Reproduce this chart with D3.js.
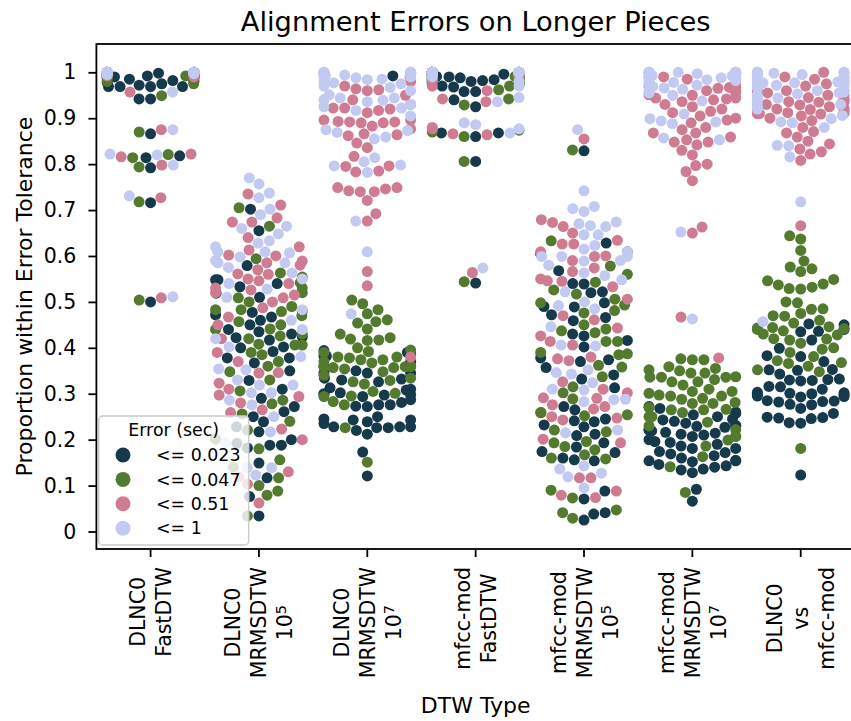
<!DOCTYPE html>
<html>
<head>
<meta charset="utf-8">
<script src="https://cdn.jsdelivr.net/npm/d3@7"></script>
<style>
body { margin: 0; background: #fff; }
svg text { font-family: "DejaVu Sans", sans-serif; fill: #000; }
</style>
</head>
<body>
<svg id="chart" width="851" height="721"></svg>
<script>
// Kategorie (typ DTW) i etykiety osi X (linie, "^" = indeks górny)
var categories = ["DLNC0 FastDTW", "DLNC0 MRMSDTW 10^5", "DLNC0 MRMSDTW 10^7", "mfcc-mod FastDTW",
	"mfcc-mod MRMSDTW 10^5", "mfcc-mod MRMSDTW 10^7", "DLNC0 vs mfcc-mod"];
var tickLines = [["DLNC0", "FastDTW"], ["DLNC0", "MRMSDTW", "10^5"], ["DLNC0", "MRMSDTW", "10^7"],
	["mfcc-mod", "FastDTW"], ["mfcc-mod", "MRMSDTW", "10^5"], ["mfcc-mod", "MRMSDTW", "10^7"],
	["DLNC0", "vs", "mfcc-mod"]];
var yTicks = [0, 0.1, 0.2, 0.3, 0.4, 0.5, 0.6, 0.7, 0.8, 0.9, 1];
var hueLabels = ["<= 0.023", "<= 0.047", "<= 0.51", "<= 1"];
var hueColors = ["#16394b", "#537a2e", "#cf7c93", "#c2caf1"];

// Wartości: jedna tablica na tolerancję, w środku jedna lista na kategorię
var tol023 = [
	[.866,.814,.818,.792,.716,.500,.942,.942,.969,.969,.969,.969,.98,.99,.99,.99,.972,.975,.978,.982,.985,.988,.992,.994,.995,.996,.997,.998,.999,1,1,1,1,1,1,1,1,1,1,1,1,1,1,1,1,1],
	[.702,.655,.579,.548,.548,.533,.519,.48,.472,.467,.477,.46,.424,.430,.422,.417,.435,.402,.40,.392,.378,.378,.367,.329,.272,.228,.217,.188,.188,.192,.182,.261,.239,.149,.117,.076,.034,.54,.51,.45,.44,.35,.31,.29,.25,.20],
	[.382,.394,.382,.386,.334,.345,.326,.332,.345,.345,.302,.297,.299,.298,.313,.308,.276,.273,.272,.276,.281,.287,.294,.243,.228,.226,.245,.22,.239,.212,.226,.228,.243,.228,.173,.121,.992,.39,.37,.36,.35,.33,.31,.30,.25,.235],
	[.806,.860,.868,.868,.541,.991,.98,.995,.973,.968,.958,.958,.94,.925,.97,.975,.978,.98,.982,.984,.985,.986,.987,.988,.989,.99,.99,.992,.993,.994,.995,.996,.997,.998,.999,1,1,1,1,1,1,1,1,1,1,1],
	[.568,.539,.52,.522,.54,.498,.49,.472,.489,.466,.459,.43,.426,.416,.402,.374,.37,.378,.357,.341,.332,.313,.265,.232,.239,.245,.228,.241,.272,.212,.209,.193,.172,.174,.184,.16,.156,.154,.088,.071,.041,.038,.025,.628,.605,.829],
	[.268,.272,.254,.257,.245,.243,.236,.227,.231,.229,.221,.212,.216,.21,.219,.222,.214,.207,.186,.196,.181,.194,.172,.181,.169,.174,.154,.143,.154,.152,.16,.134,.128,.136,.14,.146,.155,.092,.066,.26,.25,.24,.23,.20,.19,.165],
	[.45,.435,.436,.417,.399,.381,.383,.37,.352,.353,.351,.343,.33,.331,.329,.332,.328,.315,.316,.301,.303,.299,.300,.302,.298,.294,.295,.293,.283,.284,.282,.285,.276,.277,.268,.257,.247,.248,.246,.249,.236,.237,.123,.452,.44,.31]
];
var tol047 = [
	[.870,.814,.821,.794,.718,.504,.949,.975,.986,.99,.98,.983,.987,.99,.992,.993,.994,.995,.996,.997,.998,.999,1,1,1,1,1,1,1,1,1,1,1,1,1,1,1,1,1,1,1,1,1,1,1,1],
	[.594,.563,.554,.542,.52,.509,.483,.483,.479,.457,.441,.426,.45,.50,.42,.406,.406,.408,.385,.348,.306,.278,.256,.201,.286,.221,.156,.117,.088,.079,.034,.665,.705,.53,.49,.47,.44,.43,.39,.37,.36,.33,.24,.18,.14,.10],
	[.496,.504,.483,.474,.461,.457,.454,.441,.43,.422,.417,.416,.419,.38,.378,.38,.367,.357,.348,.354,.357,.359,.329,.326,.321,.334,.295,.305,.283,.276,.226,.151,.395,.374,.359,.392,.374,.359,.301,.294,.998,.40,.39,.37,.36,.34],
	[.806,.860,.87,.874,.544,.988,.984,.993,.962,.97,.973,.942,.929,.975,.978,.98,.982,.985,.987,.989,.99,.991,.992,.993,.994,.995,.996,.997,.998,.999,1,1,1,1,1,1,1,1,1,1,1,1,1,1,1,1],
	[.578,.56,.526,.517,.543,.506,.493,.498,.481,.476,.441,.437,.433,.414,.414,.387,.358,.385,.39,.337,.362,.302,.315,.289,.259,.259,.252,.254,.221,.217,.196,.193,.185,.178,.16,.167,.158,.09,.073,.041,.047,.029,.633,.609,.831,.45],
	[.376,.374,.374,.359,.35,.345,.352,.355,.337,.336,.336,.326,.319,.326,.331,.336,.345,.305,.301,.295,.288,.295,.297,.305,.279,.265,.25,.281,.259,.265,.266,.279,.25,.238,.222,.207,.199,.207,.186,.163,.141,.085,.31,.29,.27,.23],
	[.644,.637,.612,.589,.572,.566,.576,.546,.537,.528,.549,.529,.532,.539,.498,.484,.485,.469,.470,.475,.454,.44,.446,.437,.443,.444,.442,.428,.417,.41,.419,.42,.39,.397,.368,.372,.366,.381,.352,.348,.181,.50,.46,.43,.40,.36]
];
var tol051 = [
	[.875,.816,.822,.798,.727,.509,.957,.99,.992,.994,.995,.996,.997,.998,.999,1,1,1,1,1,1,1,1,1,1,1,1,1,1,1,1,1,1,1,1,1,1,1,1,1,1,1,1,1,1,1],
	[.735,.711,.683,.674,.674,.613,.60,.589,.602,.585,.58,.561,.546,.56,.55,.52,.515,.526,.509,.467,.487,.53,.346,.345,.323,.297,.294,.28,.259,.223,.265,.13,.119,.062,.103,.64,.62,.57,.54,.50,.45,.42,.39,.37,.31,.20],
	[1,.964,.96,.962,.95,.922,.917,.912,.922,.92,.896,.893,.89,.883,.89,.877,.892,.892,.896,.862,.866,.864,.846,.836,.817,.795,.783,.785,.796,.749,.746,.74,.74,.742,.749,.721,.676,.692,.566,.535,.38,.99,.98,.97,.94,.93],
	[.864,.866,.877,.88,.564,.936,.942,.96,.97,.98,.985,.99,.992,.994,.995,.996,.997,.998,.999,1,1,1,1,1,1,1,1,1,1,1,1,1,1,1,1,1,1,1,1,1,1,1,1,1,1,1],
	[.574,.566,.55,.546,.545,.533,.506,.461,.443,.47,.414,.426,.406,.38,.372,.376,.326,.302,.31,.291,.272,.276,.29,.267,.247,.25,.243,.193,.201,.117,.117,.079,.074,.088,.673,.664,.679,.65,.626,.626,.634,.609,.599,.59,.855,.60],
	[.98,.958,.96,.967,.967,.951,.944,.942,.936,.94,.944,.92,.95,.912,.89,.896,.90,.868,.859,.853,.848,.842,.848,.868,.784,.797,.80,.764,.65,.663,.467,.378,.99,.985,.975,.97,.965,.955,.93,.925,.915,.905,.88,.875,.83,.82],
	[1,.957,.936,.929,.933,.935,.919,.91,.911,.909,.912,.871,.859,.868,.844,.827,.822,.833,.808,.666,.99,.985,.98,.975,.97,.965,.96,.955,.95,.951,.945,.94,.941,.935,.93,.925,.92,.921,.915,.916,.905,.90,.895,.88,.85,.91]
];
var tol1 = [
	[.875,.820,.822,.798,.731,.511,.957,.995,.997,.998,.999,1,1,1,1,1,1,1,1,1,1,1,1,1,1,1,1,1,1,1,1,1,1,1,1,1,1,1,1,1,1,1,1,1,1,1],
	[.770,.757,.737,.727,.702,.665,.648,.633,.628,.609,.607,.598,.609,.585,.585,.575,.563,.528,.483,.402,.381,.354,.352,.319,.302,.286,.302,.319,.276,.217,.123,.139,.139,.193,.69,.66,.62,.59,.55,.54,.51,.46,.44,.42,.33,.25],
	[1,.994,.99,.984,.977,.988,.967,.98,.944,.94,.936,.951,.939,.944,.94,.922,.925,.917,.905,.875,.869,.855,.859,.873,.814,.805,.796,.782,.798,.676,.609,.474,1,1,1,1,.998,.996,.995,.993,.99,.985,.975,.97,.96,.93],
	[.868,.877,.886,.89,.574,.945,.936,.97,.98,.99,.995,.997,.998,.999,1,1,1,1,1,1,1,1,1,1,1,1,1,1,1,1,1,1,1,1,1,1,1,1,1,1,1,1,1,1,1,1],
	[.59,.557,.563,.548,.522,.492,.485,.50,.446,.406,.404,.352,.343,.346,.324,.31,.308,.288,.283,.287,.215,.221,.127,.143,.119,.136,.095,.742,.708,.697,.703,.666,.674,.664,.67,.646,.646,.623,.609,.589,.599,.599,.615,.599,.58,.875],
	[.99,.986,.999,.99,.984,.969,.966,.96,.938,.909,.899,.894,.888,.892,.853,.857,.652,.463,1,1,1,1,.998,.995,.993,.99,.985,.98,1,1,1,1,1,1,.997,.996,.994,.992,.988,.982,.978,.975,.972,.963,.955,.95],
	[1,.99,.979,.979,.979,.977,.977,.966,.957,.953,.944,.955,.935,.906,.899,.89,.892,.84,.841,.816,.718,.457,1,1,1,1,.998,.995,.993,.99,.988,.985,.982,.975,.972,.97,.968,.962,.96,.95,.945,.94,.93,.925,.92,.88]
];
var series = [tol023, tol047, tol051, tol1];

var svg = d3.select("#chart");
var R = 5.5;  // promień punktu

// Skale
var x = d3.scaleBand().domain(categories).range([96.4, 854.9]).paddingInner(0).paddingOuter(0);
var y = d3.scaleLinear().domain([0, 1]).range([531.5, 72.3]);
var plotTop = 44, plotBottom = 549;

// Układ "swarm" jak w seaborn: po kolei od najmniejszej wartości
function beeswarm(pts, cx, halfW) {
	var sorted = pts.slice().sort(function (a, b) { return a.v - b.v || a.order - b.order; });
	var placed = [];
	sorted.forEach(function (p, i) {
		p.py = y(p.v);
		if (i === 0) { p.px = cx; placed.push(p); return; }
		var nb = [];
		for (var j = placed.length - 1; j >= 0; j--) {
			if (placed[j].py - p.py < 2 * R) nb.unshift(placed[j]); else break;
		}
		var cands = [cx];
		var leftFirst = true;
		nb.forEach(function (q) {
			var dy = p.py - q.py;
			var dx = Math.sqrt(Math.max(4 * R * R - dy * dy, 0)) * 1.05;
			if (leftFirst) cands.push(q.px - dx, q.px + dx);
			else cands.push(q.px + dx, q.px - dx);
			leftFirst = !leftFirst;
		});
		var order = cands.map(function (c, k) { return [Math.abs(c - cx), k, c]; })
			.sort(function (a, b) { return a[0] - b[0] || a[1] - b[1]; });
		var chosen = cx;
		for (var k = 0; k < order.length; k++) {
			var c = order[k][2];
			var ok = nb.every(function (q) {
				var ddx = q.px - c, ddy = q.py - p.py;
				return ddx * ddx + ddy * ddy >= 4 * R * R - 1e-9;
			});
			if (ok) { chosen = c; break; }
		}
		p.px = chosen;
		placed.push(p);
	});
	// punkty poza szerokością lądują na krawędzi
	placed.forEach(function (p) {
		p.px = Math.max(cx - halfW, Math.min(cx + halfW, p.px));
	});
}

svg.append("clipPath").attr("id", "clip")
	.append("rect").attr("x", 96.4).attr("y", plotTop).attr("width", 758.5).attr("height", plotBottom - plotTop);

var pointsG = svg.append("g").attr("clip-path", "url(#clip)");

categories.forEach(function (cat, ci) {
	var pts = [];
	series.forEach(function (s, hi) {
		s[ci].forEach(function (v) { pts.push({ v: v, hue: hi, order: pts.length }); });
	});
	var cx = x(cat) + x.bandwidth() / 2;
	beeswarm(pts, cx, x.bandwidth() * 0.4);
	pointsG.selectAll(null).data(pts).enter().append("circle")
		.attr("cx", function (d) { return d.px; })
		.attr("cy", function (d) { return d.py; })
		.attr("r", R)
		.style("fill", function (d) { return hueColors[d.hue]; });
});

// Ramka wykresu
svg.append("rect").attr("x", 96.4).attr("y", plotTop).attr("width", 758.5).attr("height", plotBottom - plotTop)
	.style("fill", "none").style("stroke", "#000").style("stroke-width", 1.8);

// Oś Y
var yAxis = svg.append("g").attr("transform", "translate(96.4,0)")
	.call(d3.axisLeft(y).tickValues(yTicks).tickSize(8).tickPadding(12)
		.tickFormat(function (d) { return d === 0 ? "0" : d === 1 ? "1" : d3.format(".1f")(d); }));
yAxis.select(".domain").remove();
yAxis.selectAll(".tick line").style("stroke", "#000").style("stroke-width", 1.8);
yAxis.selectAll(".tick text").style("font-size", "20.5px").style("font-family", "DejaVu Sans").attr("fill", "#000");

// Oś X – tylko kreski, etykiety rysowane obrócone
var xAxis = svg.append("g").attr("transform", "translate(0," + plotBottom + ")")
	.call(d3.axisBottom(x).tickSize(8).tickFormat(""));
xAxis.select(".domain").remove();
xAxis.selectAll(".tick line").style("stroke", "#000").style("stroke-width", 1.8);

var pitch = 26;
categories.forEach(function (cat, ci) {
	var cx = x(cat) + x.bandwidth() / 2;
	var outer = svg.append("g");
	var rot = outer.append("g").attr("transform", "rotate(-90)");
	var lines = tickLines[ci];
	var maxLen = 0;
	lines.forEach(function (ln, k) {
		var t = rot.append("text")
			.attr("x", 0)
			.attr("y", (k - (lines.length - 1) / 2) * pitch + 7.5)
			.attr("text-anchor", "middle")
			.style("font-size", "20.5px");
		var parts = ln.split("^");
		t.append("tspan").text(parts[0]);
		if (parts.length > 1) {
			t.append("tspan").attr("dy", "-0.45em").style("font-size", "14.5px").text(parts[1]);
		}
		maxLen = Math.max(maxLen, t.node().getComputedTextLength());
	});
	outer.attr("transform", "translate(" + cx + "," + (567 + maxLen / 2) + ")");
});

// Tytuł i opisy osi
svg.append("text").attr("x", 475.6).attr("y", 31).attr("text-anchor", "middle")
	.style("font-size", "27.3px").text("Alignment Errors on Longer Pieces");
svg.append("text").attr("x", 475.6).attr("y", 713).attr("text-anchor", "middle")
	.style("font-size", "22px").text("DTW Type");
svg.append("text").attr("transform", "translate(32,296.5) rotate(-90)").attr("text-anchor", "middle")
	.style("font-size", "22px").text("Proportion within Error Tolerance");

// Legenda
var leg = svg.append("g");
leg.append("rect").attr("x", 98.7).attr("y", 416).attr("width", 150).attr("height", 129).attr("rx", 4)
	.style("fill", "#fff").style("fill-opacity", 0.8).style("stroke", "#cccccc").style("stroke-width", 1.5);
leg.append("text").attr("x", 173.7).attr("y", 436).attr("text-anchor", "middle")
	.style("font-size", "17.4px").text("Error (sec)");
hueLabels.forEach(function (lab, i) {
	var cy = 455 + i * 24.4;
	leg.append("circle").attr("cx", 123).attr("cy", cy).attr("r", 7.5).style("fill", hueColors[i]);
	leg.append("text").attr("x", 156).attr("y", cy + 6.2).style("font-size", "17.4px").text(lab);
});
</script>
</body>
</html>
